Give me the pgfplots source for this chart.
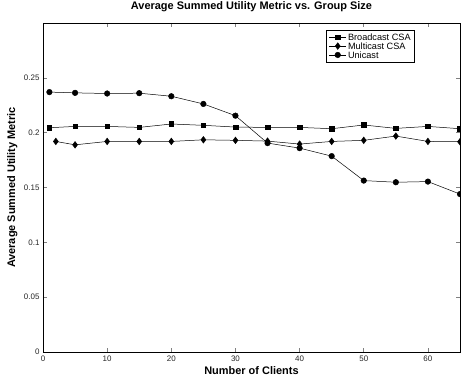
\documentclass[border=0pt]{standalone}
\usepackage{fontspec}
\setmainfont{Liberation Sans}
\usepackage{pgfplots}
\pgfplotsset{compat=1.18}
\begin{document}
\begin{tikzpicture}
\begin{axis}[
  scale only axis,
  width=417bp, height=329bp,
  xmin=0, xmax=65, ymin=0, ymax=0.3,
  xtick={0,10,20,30,40,50,60},
  ytick={0,0.05,0.1,0.15,0.2,0.25},
  yticklabels={0,0.05,0.1,0.15,0.2,0.25},
  tick align=inside,
  tick pos=both,
  major tick length=4bp,
  tick style={line width=0.6pt},
  /pgf/number format/assume math mode=true,
  ticklabel style={font=\fontsize{8}{9}\selectfont, text=black!85},
  title={\bfseries Average Summed Utility Metric vs. Group Size},
  title style={font=\fontsize{11}{12}\selectfont, at={(axis description cs:0.5,1.0228)}, anchor=base},
  xlabel={\bfseries Number of Clients},
  ylabel={\bfseries Average Summed Utility Metric},
  label style={font=\fontsize{11}{12}\selectfont},
  xlabel style={at={(axis description cs:0.5,-0.0699)}, anchor=base},
  ylabel style={at={(axis description cs:-0.0671,0.5)}, anchor=base},
  axis line style={line width=0.8pt},
  legend style={at={(0.892,0.979)}, anchor=north east, font=\fontsize{9.2}{10}\selectfont, draw=black, line width=0.6pt, inner xsep=2.5bp, inner ysep=2.5bp, row sep=0pt,
    nodes={inner xsep=1.5bp, inner ysep=1.2bp, text height=6.5bp, text depth=0pt}},
  legend cell align=left,
]
\addplot[black, line width=0.5pt, mark=square*, mark size=2.3pt, mark options={solid, fill=black}] coordinates {
(1,0.2045) (5,0.2057) (10,0.2057) (15,0.2048) (20,0.2079) (25,0.2067) (30,0.2051) (35,0.2048) (40,0.2048) (45,0.2036) (50,0.2070) (55,0.2039) (60,0.2057) (65,0.2036)};
\addlegendentry{Broadcast CSA}
\addplot[black, line width=0.5pt, mark=diamond*, mark size=3.3pt, mark options={solid, fill=black}] coordinates {
(2,0.1920) (5,0.1889) (10,0.1920) (15,0.1920) (20,0.1920) (25,0.1935) (30,0.1930) (35,0.1923) (40,0.1896) (45,0.1920) (50,0.1930) (55,0.1969) (60,0.1920) (65,0.1917)};
\addlegendentry{Multicast CSA}
\addplot[black, line width=0.5pt, mark=*, mark size=2.8pt, mark options={solid, fill=black}] coordinates {
(1,0.2370) (5,0.2363) (10,0.2357) (15,0.2360) (20,0.2332) (25,0.2262) (30,0.2155) (35,0.1905) (40,0.1859) (45,0.1786) (50,0.1563) (55,0.1548) (60,0.1554) (65,0.1440)};
\addlegendentry{Unicast}
\end{axis}
\pgfresetboundingbox
\useasboundingbox (-43bp,-29bp) rectangle (418bp,352bp);
\end{tikzpicture}
\end{document}
